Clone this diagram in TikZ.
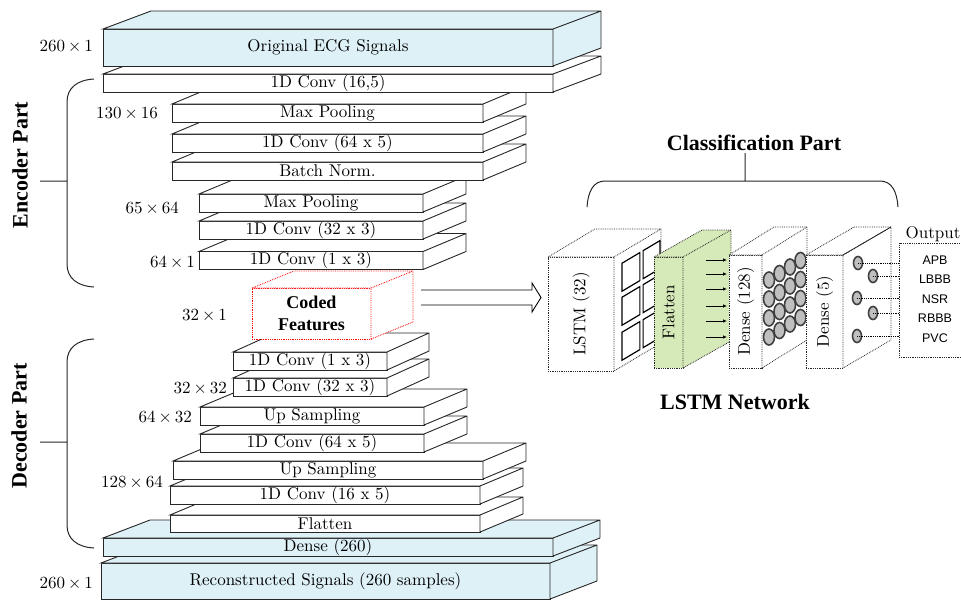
\documentclass[tikz,border=0pt]{standalone}
\usepackage{fontspec}
\setmainfont{lmroman10-regular}[Extension=.otf, BoldFont=lmroman10-bold, ItalicFont=lmroman10-italic]
\newfontfamily\tnr{Liberation Serif}
\newfontfamily\arial{Liberation Sans}
\usetikzlibrary{calc,shapes.geometric,arrows.meta}
\definecolor{sigblue}{RGB}{222,241,246}
\definecolor{flatgreen}{RGB}{214,233,184}
% top and right face of a block whose front is node #2
\newcommand\faces[4][]{\draw[#1] (#2.north west) -- ++(#3,-#4) -- ($(#2.north east)+(#3,-#4)$) -- ($(#2.south east)+(#3,-#4)$) -- (#2.south east) -- (#2.north east) -- cycle (#2.north east) -- ++(#3,-#4);}
\newcommand\by{\kern3pt×\kern3pt}
\begin{document}
\begin{tikzpicture}[x=1pt,y=-1pt,
  layer/.style={draw=black!85, line width=.9pt, fill=white, minimum width=#1pt, minimum height=18pt, inner sep=0pt, outer sep=0pt, font=\fontsize{17}{17}\selectfont},
  facel/.style={draw=black!85, line width=.9pt, fill=white},
  dimlab/.style={anchor=east, inner sep=0pt, font=\fontsize{17}{17}\selectfont},
  head/.style={font=\tnr\bfseries\fontsize{22}{22}\selectfont},
  brace/.style={line width=1pt, black!85},
  cube/.style={draw=black!85, densely dotted, line width=.8pt, fill=white, inner sep=0pt, outer sep=0pt},
  cubef/.style={draw=black!85, densely dotted, line width=.8pt, fill=white},
  rot/.style={rotate=90, font=\fontsize{17}{17}\selectfont},
  neuron/.style={ellipse, draw=black!75, line width=1.6pt, fill=black!25, minimum width=11pt, minimum height=16pt, inner sep=0pt},
  flow/.style={-{Latex[length=4pt,width=3.5pt]}, line width=.8pt}]
\useasboundingbox (0,0) rectangle (961,600);

% decoder, bottom up
\node[layer=449, minimum height=36pt, fill=sigblue] (rec) at (325.5,581) {Reconstructed Signals (260 samples)};
\faces[facel, fill=sigblue]{rec}{47}{18}
\node[layer=450, fill=sigblue] (dns) at (328,547) {Dense (260)};
\faces[facel, fill=sigblue]{dns}{47}{18}
\node[layer=310, minimum height=17pt] (flt) at (325,523.5) {Flatten};
\faces[facel]{flt}{43}{18}
\node[layer=310] (dc165) at (325,495) {1D Conv (16 x 5)};
\faces[facel]{dc165}{43}{18}
\node[layer=310] (up2) at (328,470) {Up Sampling};
\faces[facel]{up2}{43}{18}
\node[layer=224] (dc645) at (312,443) {1D Conv (64 x 5)};
\faces[facel]{dc645}{43}{18}
\node[layer=224] (up1) at (312,416) {Up Sampling};
\faces[facel]{up1}{43}{18}
\node[layer=154] (dc323) at (310,387) {1D Conv (32 x 3)};
\faces[facel]{dc323}{42}{19}
\node[layer=154] (dc13) at (310,361) {1D Conv (1 x 3)};
\faces[facel]{dc13}{42}{19}

\node[draw=red, densely dotted, line width=.8pt, fill=white, minimum width=119pt, minimum height=51pt, inner sep=0pt, outer sep=0pt, align=center, font=\tnr\bfseries\fontsize{18}{22}\selectfont] (cf) at (311.5,313.5) {Coded\\Features};
\faces[draw=red, densely dotted, line width=.8pt, fill=white]{cf}{42}{17}

% encoder
\node[layer=224] (c13) at (311,260.5) {1D Conv (1 x 3)};
\faces[facel]{c13}{43}{18}
\node[layer=224] (c323) at (311,230) {1D Conv (32 x 3)};
\faces[facel]{c323}{43}{18}
\node[layer=224] (mp2) at (311,203) {Max Pooling};
\faces[facel]{mp2}{43}{18}
\node[layer=311] (bn) at (327.5,171) {Batch Norm.};
\faces[facel]{bn}{43}{18}
\node[layer=311] (c645) at (327.5,143) {1D Conv (64 x 5)};
\faces[facel]{c645}{43}{18}
\node[layer=311] (mp1) at (327.5,113) {Max Pooling};
\faces[facel]{mp1}{43}{18}
\node[layer=450] (c165) at (328,83) {1D Conv (16,5)};
\faces[facel]{c165}{48}{18}
\node[layer=450, minimum height=37pt, fill=sigblue] (ecg) at (328,47.5) {Original ECG Signals};
\faces[facel, fill=sigblue]{ecg}{48}{18}

\node[dimlab] (s1) at (93,46) {260\by1};
\node[dimlab] (s2) at (158,113) {130\by16};
\node[dimlab] (s3) at (179,208) {65\by64};
\node[dimlab] (s4) at (195,262) {64\by1};
\node[dimlab] (s5) at (227,315) {32\by1};
\node[dimlab] (s6) at (227,388) {32\by32};
\node[dimlab] (s7) at (192,417) {64\by32};
\node[dimlab] (s8) at (163,482) {128\by64};
\node[dimlab] (s9) at (93,583) {260\by1};

\draw[brace] (94,79) .. controls (77,80) and (67,88) .. (67,102) -- (67,264) .. controls (67,278) and (77,286) .. (94,287) (67,181) -- (40,181);
\node[head, rotate=90] (enc) at (20,165) {Encoder Part};
\draw[brace] (94,339) .. controls (77,340) and (67,348) .. (67,362) -- (67,525) .. controls (67,539) and (77,547) .. (94,548) (67,442) -- (40,442);
\node[head, rotate=90] (dec) at (19,426) {Decoder Part};

% classification part
\node[cube, minimum width=66pt, minimum height=114pt] (lstm) at (581,314) {};
\faces[cubef]{lstm}{47}{28}
\foreach \u/\uu in {0.17/0.55,0.62/0.98}
  \foreach \v in {11,45,80}
    \draw[line width=1.2pt] ($(lstm.north east)+({47*\u},{-28*\u+\v})$) -- ($(lstm.north east)+({47*\uu},{-28*\uu+\v})$) -- ($(lstm.north east)+({47*\uu},{-28*\uu+\v+28})$) -- ($(lstm.north east)+({47*\u},{-28*\u+\v+28})$) -- cycle;
\node[rot] (lstmt) at (lstm) {LSTM (32)};

\draw[line width=.9pt] ([xshift=50pt,yshift=23.5pt]cf.east) -- ++(111,0) -- ++(0,-7) -- ++(9,14.5) -- ++(-9,14.5) -- ++(0,-7) -- ++(-111,0);

\node[cube, fill=flatgreen, minimum width=29pt, minimum height=111pt] (flat) at (668.5,312.5) {};
\faces[cubef, fill=flatgreen]{flat}{48}{27}
\node[rot] (flatt) at (flat) {Flatten};
\foreach \y in {-52.5,-38.5,-23.5,-6.5,8.5,24.5}
  \draw[flow] ($(flat.east)+(23,\y)$) -- ++(21,0);

\node[cube, minimum width=33pt, minimum height=113pt] (d128) at (745.5,311.5) {};
\faces[cubef]{d128}{45}{28}
\node[rot] (d128t) at (d128) {Dense (128)};
\foreach \i in {0,...,3}
  \foreach \j in {0,...,3}
    \node[neuron] (n\i\j) at ($(d128.north east)+({7+10.5*\j},{25-6.5*\j+19*\i})$) {};

\node[cube, minimum width=37pt, minimum height=113pt] (d5) at (824.5,311.5) {};
\faces[cubef]{d5}{48}{28}
\draw[line width=.8pt, black!85] (d5.north east) -- ++(48,-28);
\node[rot] (d5t) at (d5) {Dense (5)};

\node[cube, minimum width=76pt, minimum height=114pt] (out) at (937,300) {};
\node[font=\fontsize{17}{17}\selectfont] (outl) at (933,234) {Output};
\node[font=\arial\fontsize{12.5}{19.5}\selectfont, align=center] (cls) at (935,299) {APB\\LBBB\\NSR\\RBBB\\PVC};
\foreach \n/\p in {1/{15,8},2/{30,21},3/{14,43},4/{30,58},5/{14,81}} {
  \node[neuron, minimum width=9pt, minimum height=13pt] (o\n) at ($(d5.north east)+(\p)$) {};
  \draw[densely dotted, line width=.8pt] (o\n.center) -- (o\n.center -| out.west);
}

\draw[brace] (587,207) .. controls (588,192) and (593,181) .. (605,181) -- (880,181) .. controls (892,181) and (897,192) .. (898,207) (745,181) -- (745,153);
\node[head] (clsp) at (754,143) {Classification Part};
\node[head] (net) at (735,402) {LSTM Network};
\end{tikzpicture}
\end{document}
